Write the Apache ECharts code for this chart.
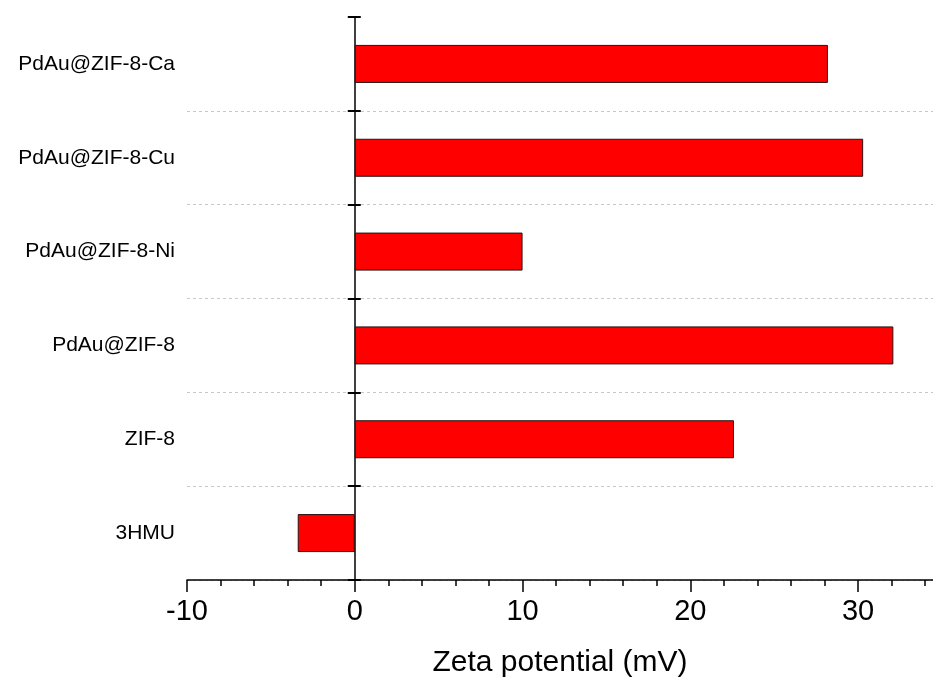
<!DOCTYPE html>
<html>
<head>
<meta charset="utf-8">
<script src="https://cdn.jsdelivr.net/npm/echarts@6/dist/echarts.min.js"></script>
<style>
html,body{margin:0;padding:0;background:#fff;}
#chart{width:933px;height:682px;}
</style>
</head>
<body>
<div id="chart"></div>
<script>
// Data (bottom to top)
const categories = ['3HMU', 'ZIF-8', 'PdAu@ZIF-8', 'PdAu@ZIF-8-Ni', 'PdAu@ZIF-8-Cu', 'PdAu@ZIF-8-Ca'];
const zetaValues = [-3.4, 22.6, 32.1, 10.0, 30.3, 28.2];
const xTicks = [-10, 0, 10, 20, 30];
const xTitle = 'Zeta potential (mV)';

const FONT = 'Arial, "Liberation Sans", sans-serif';
const chart = echarts.init(document.getElementById('chart'), null, {renderer: 'canvas'});

const gridLeft = 187, gridRight = -9;
const xMin = -10, xMax = 35;
const plotW = 933 - gridLeft - gridRight;
const zeroX = plotW * (0 - xMin) / (xMax - xMin);

chart.setOption({
  backgroundColor: '#fff',
  animation: false,
  grid: {left: gridLeft, right: gridRight, top: 17, bottom: 102, containLabel: false, outerBoundsMode: 'none'},
  xAxis: {
    type: 'value', min: xMin, max: xMax, interval: 10,
    axisLine: {show: true, onZero: false, lineStyle: {color: '#000', width: 1.5}},
    axisTick: {show: true, inside: false, length: 12, lineStyle: {color: '#000', width: 1.5}},
    minorTick: {show: true, splitNumber: 5, length: 6, lineStyle: {color: '#000', width: 1.5}},
    splitLine: {show: false},
    axisLabel: {
      fontSize: 29, fontFamily: FONT, color: '#000', margin: 17,
      formatter: v => (xTicks.indexOf(v) >= 0 ? String(v) : '')
    },
    name: xTitle, nameLocation: 'middle', nameGap: 68,
    nameTextStyle: {fontSize: 30, fontFamily: FONT, color: '#000', padding: [0, 9, 0, 0]}
  },
  yAxis: [
    {
      type: 'category', data: categories, boundaryGap: true,
      axisLine: {show: true, onZero: true, lineStyle: {color: '#000', width: 1.5}},
      axisTick: {show: true, inside: false, length: 7, lineStyle: {color: '#000', width: 2}},
      axisLabel: {fontSize: 21, fontFamily: FONT, color: '#000', margin: 12},
      splitLine: {show: true, showMaxLine: false, lineStyle: {color: '#c8c8c8', type: [3, 3], width: 1}}
    },
    {
      type: 'category', data: categories, boundaryGap: true, position: 'left',
      offset: -zeroX,
      axisLine: {show: false, onZero: false},
      axisTick: {show: true, inside: true, length: 6, lineStyle: {color: '#000', width: 2}},
      axisLabel: {show: false},
      splitLine: {show: false}
    }
  ],
  series: [{
    type: 'bar', yAxisIndex: 0, xAxisIndex: 0,
    data: zetaValues,
    barWidth: 38,
    itemStyle: {color: '#ff0000', borderColor: '#2a1010', borderWidth: 1}
  }]
});
</script>
</body>
</html>
